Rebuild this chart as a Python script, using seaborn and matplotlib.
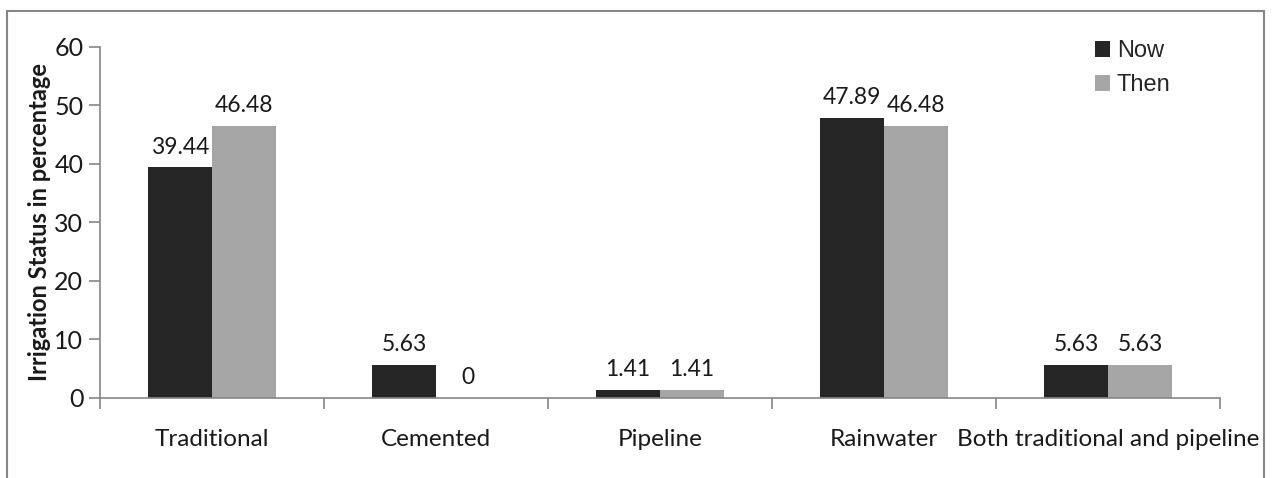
import matplotlib
matplotlib.use("Agg")
import matplotlib.pyplot as plt
from matplotlib.patches import Rectangle
import seaborn as sns
import pandas as pd

categories = ["Traditional", "Cemented", "Pipeline", "Rainwater",
              "Both traditional and pipeline"]
now_values = [39.44, 5.63, 1.41, 47.89, 5.63]
then_values = [46.48, 0, 1.41, 46.48, 5.63]
series_names = ["Now", "Then"]
y_ticks = [0, 10, 20, 30, 40, 50, 60]

df = pd.DataFrame({
    "category": categories * 2,
    "value": now_values + then_values,
    "series": [series_names[0]] * len(categories) + [series_names[1]] * len(categories),
})

sns.set_theme(style="white")
plt.rcParams["font.family"] = ["Lato", "DejaVu Sans"]

fig = plt.figure(figsize=(12.74, 4.78), dpi=100)
ax = fig.add_axes([0.0785, 0.1674, 0.8791, 0.7343])

palette = {"Now": "#262626", "Then": "#a6a6a6"}
sns.barplot(data=df, x="category", y="value", hue="series", order=categories,
            hue_order=series_names, palette=palette, width=0.571,
            saturation=1, edgecolor="none", linewidth=0, ax=ax)

for cont in ax.containers:
    labels = [f"{v:g}" if v != 0 else "0" for v in cont.datavalues]
    ax.bar_label(cont, labels=labels, padding=7, fontsize=16.5, color="#1a1a1a")

ax.set_xlim(-0.5, len(categories) - 0.5)
ax.set_ylim(0, 60)
ax.set_yticks(y_ticks)
ax.set_yticklabels([str(t) for t in y_ticks], fontsize=18, color="#1a1a1a")
ax.set_xticks(range(len(categories)))
ax.set_xticklabels(categories, fontsize=17.5, color="#1a1a1a")
ax.set_xlabel("")
ax.set_ylabel("Irrigation Status in percentage", fontsize=17, fontweight="bold",
              color="#1a1a1a", labelpad=2)

spine_color = "#868686"
for side in ["top", "right"]:
    ax.spines[side].set_visible(False)
for side in ["left", "bottom"]:
    ax.spines[side].set_color(spine_color)
    ax.spines[side].set_linewidth(1.2)

# y ticks on the left, x ticks at category boundaries
ax.tick_params(axis="y", which="major", left=True, length=8, width=1.2,
               color=spine_color, direction="out", pad=4)
ax.tick_params(axis="x", which="major", bottom=False, pad=16)
ax.set_xticks([i - 0.5 for i in range(len(categories) + 1)], minor=True)
ax.tick_params(axis="x", which="minor", bottom=True, length=8, width=1.2,
               color=spine_color, direction="out")

leg = ax.legend(loc="upper right", bbox_to_anchor=(0.975, 1.08), frameon=False,
                handlelength=0.65, handleheight=0.65,
                handletextpad=0.3, labelspacing=0.5,
                prop={"family": ["Liberation Sans", "DejaVu Sans"], "size": 17})

# outer chart frame
fig.patches.append(Rectangle((7 / 1274, -0.05), (1264 - 7) / 1274, 1.05 - 11 / 478,
                             transform=fig.transFigure, fill=False,
                             edgecolor="#868686", linewidth=1.5, clip_on=False))

fig.savefig("out.png", dpi=100, facecolor="white")
